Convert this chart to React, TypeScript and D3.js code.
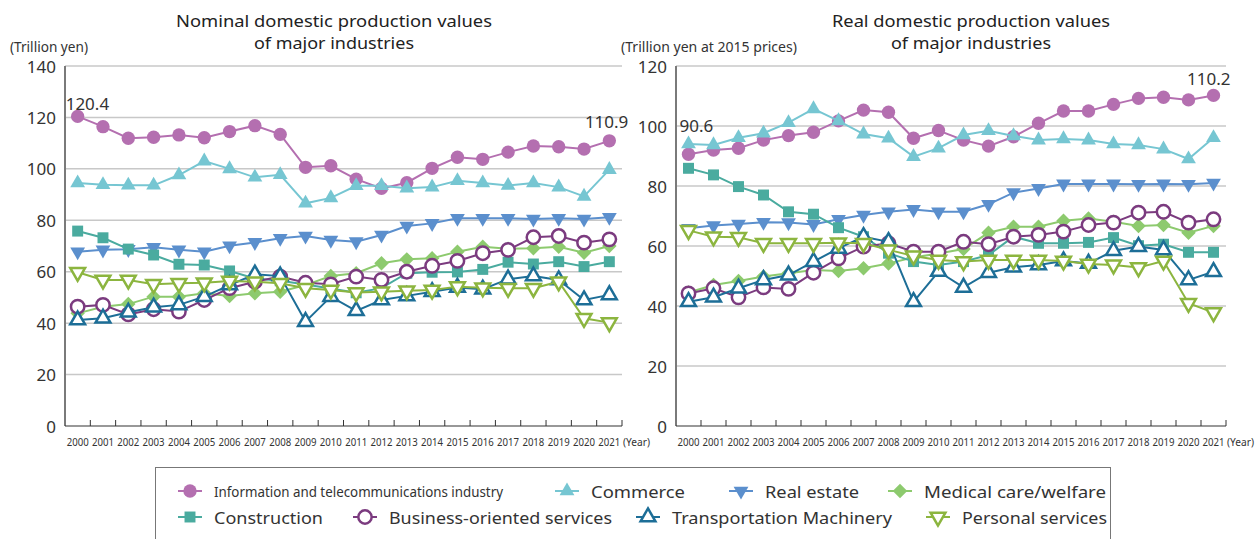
import * as d3 from "d3";

const years = d3.range(2000, 2022).map(String);

const SERIES = [
  "Information and telecommunications industry",
  "Commerce",
  "Real estate",
  "Medical care/welfare",
  "Construction",
  "Business-oriented services",
  "Transportation Machinery",
  "Personal services",
];

// nominal values (trillion yen)
const nomInfo = [120.4, 116.4, 111.9, 112.3, 113.2, 112.1, 114.5, 116.8, 113.4, 100.6, 101.2, 96.0, 92.4, 94.6, 100.2, 104.5, 103.7, 106.5, 108.9, 108.6, 107.7, 110.9];
const nomCommerce = [94.5, 93.8, 93.6, 93.6, 97.6, 103.0, 100.0, 96.7, 97.7, 86.6, 88.7, 93.4, 93.4, 92.5, 92.9, 95.4, 94.5, 93.5, 94.5, 92.9, 89.3, 99.7];
const nomRealEstate = [67.8, 68.5, 68.7, 69.5, 68.5, 67.8, 70.1, 71.4, 73.0, 73.9, 72.3, 71.7, 74.3, 77.8, 78.8, 80.8, 80.8, 80.8, 80.5, 80.8, 80.5, 81.2];
const nomMedical = [43.8, 46.4, 47.4, 50.3, 50.3, 51.6, 50.6, 51.6, 52.2, 54.8, 58.3, 59.4, 63.3, 64.8, 65.2, 67.8, 69.7, 68.9, 69.1, 69.7, 67.4, 70.0];
const nomConstruction = [75.8, 73.2, 68.8, 66.5, 62.9, 62.6, 60.3, 57.4, 56.5, 55.0, 53.5, 51.8, 53.6, 59.4, 59.8, 59.9, 60.9, 63.7, 63.0, 63.9, 62.0, 63.9];
const nomBusiness = [46.4, 47.1, 43.4, 45.4, 44.5, 49.0, 53.6, 56.1, 58.1, 55.7, 55.1, 58.1, 56.8, 60.0, 62.3, 64.2, 67.2, 68.5, 73.4, 73.9, 71.3, 72.6];
const nomTransport = [41.2, 41.9, 44.2, 46.2, 47.1, 50.3, 54.8, 59.0, 58.3, 40.6, 50.3, 44.8, 49.0, 50.6, 52.2, 53.9, 53.2, 57.1, 58.3, 56.8, 49.0, 51.0];
const nomPersonal = [59.8, 56.8, 56.8, 55.1, 55.5, 55.7, 56.4, 56.1, 55.5, 53.6, 52.9, 51.9, 52.2, 52.6, 52.9, 54.2, 53.8, 53.6, 53.6, 56.1, 41.9, 40.2];

// real values (trillion yen at 2015 prices)
const realInfo = [90.6, 92.0, 92.6, 95.3, 96.8, 97.9, 101.7, 105.3, 104.6, 95.9, 98.5, 95.3, 93.3, 96.4, 100.9, 105.0, 105.0, 107.2, 109.2, 109.6, 108.7, 110.2];
const realCommerce = [94.0, 93.7, 96.1, 97.6, 101.1, 105.7, 101.7, 97.3, 95.9, 89.8, 92.6, 97.0, 98.4, 96.7, 95.3, 95.7, 95.3, 94.0, 93.7, 92.3, 89.0, 96.1];
const realRealEstate = [65.9, 66.8, 67.3, 67.9, 67.8, 67.2, 68.9, 70.3, 71.4, 72.2, 71.4, 71.4, 73.9, 77.8, 79.2, 80.7, 80.7, 80.7, 80.6, 80.7, 80.6, 81.0];
const realMedical = [44.5, 47.0, 48.3, 49.8, 50.9, 52.0, 51.7, 52.6, 54.2, 56.2, 57.5, 59.0, 64.4, 66.4, 66.4, 68.4, 69.2, 68.1, 66.7, 67.0, 64.4, 66.7];
const realConstruction = [85.9, 83.7, 79.8, 77.0, 71.4, 70.6, 66.1, 63.1, 57.6, 54.8, 53.7, 54.8, 57.0, 63.1, 60.9, 60.9, 61.2, 62.8, 60.1, 60.6, 57.9, 57.9];
const realBusiness = [44.2, 45.9, 42.9, 46.2, 45.7, 51.1, 55.9, 59.8, 60.9, 58.1, 58.1, 61.4, 60.6, 63.1, 63.7, 64.8, 67.0, 67.8, 71.1, 71.4, 67.8, 68.9];
const realTransport = [41.4, 42.9, 45.9, 48.7, 50.3, 54.8, 59.2, 63.1, 61.4, 41.4, 51.5, 46.2, 51.1, 52.9, 53.7, 55.0, 54.2, 58.4, 59.8, 58.7, 48.7, 51.4];
const realPersonal = [65.2, 63.1, 62.9, 60.9, 60.9, 60.9, 61.1, 60.9, 58.7, 56.7, 55.3, 54.8, 55.3, 55.3, 55.3, 55.0, 54.0, 53.7, 52.8, 55.0, 40.9, 37.8];

const nominal = [nomInfo, nomCommerce, nomRealEstate, nomMedical, nomConstruction, nomBusiness, nomTransport, nomPersonal];
const real = [realInfo, realCommerce, realRealEstate, realMedical, realConstruction, realBusiness, realTransport, realPersonal];

const nomTicks = [0, 20, 40, 60, 80, 100, 120, 140];
const realTicks = [0, 20, 40, 60, 80, 100, 120];

type Style = { color: string; shape: string; open: boolean };
const STYLES: Style[] = [
  { color: "#b46fb0", shape: "circle", open: false },
  { color: "#76c6d2", shape: "up", open: false },
  { color: "#5b8fcd", shape: "down", open: false },
  { color: "#8dca6e", shape: "diamond", open: false },
  { color: "#4aab9f", shape: "square", open: false },
  { color: "#7b3b7f", shape: "circle", open: true },
  { color: "#1d6e97", shape: "up", open: true },
  { color: "#8cb53f", shape: "down", open: true },
];

const FONT = "'Noto Sans', 'Open Sans', sans-serif";
const TXT = "#333";

function markerPath(shape: string) {
  if (shape === "circle") return d3.symbol(d3.symbolCircle, 140)()!;
  if (shape === "square") return d3.symbol(d3.symbolSquare, 120)()!;
  if (shape === "diamond") return d3.symbol(d3.symbolSquare, 105)()!;
  return d3.symbol(d3.symbolTriangle, 95)()!;
}

function Marker({ x, y, s }: { x: number; y: number; s: Style }) {
  const rot = s.shape === "down" ? 180 : s.shape === "diamond" ? 45 : 0;
  return (
    <path
      d={markerPath(s.shape)}
      transform={`translate(${x},${y}) rotate(${rot})`}
      fill={s.open ? "#fff" : s.color}
      stroke={s.color}
      strokeWidth={s.open ? 2.5 : 0}
    />
  );
}

type PanelProps = {
  data: number[][];
  ticks: number[];
  x0: number;
  x1: number;
  title: string[];
  titleW: number[];
  titleX: number;
  unit: string;
  unitLen: number;
  notes: { i: number; text: string; dx: number; y: number; anchor: string }[];
};

function Panel({ data, ticks, x0, x1, title, titleW, titleX, unit, unitLen, notes }: PanelProps) {
  const yTop = 66, yBot = 426;
  const x = d3.scaleBand().domain(years).range([x0, x1]);
  const y = d3.scaleLinear().domain([0, d3.max(ticks)!]).range([yBot, yTop]);
  const cx = (i: number) => x(years[i])! + x.bandwidth() / 2;
  const line = d3.line<number>().x((_, i) => cx(i)).y((d) => y(d));
  return (
    <g fontFamily={FONT}>
      {title.map((t, i) => (
        <text key={i} x={titleX} y={21 + i * 22} textAnchor="middle" fontSize={16} fill="#222" dominantBaseline="central"
          textLength={titleW[i]} lengthAdjust="spacingAndGlyphs">{t}</text>
      ))}
      <text x={x0 - 55} y={46} fontSize={14} fill={TXT} dominantBaseline="central" textLength={unitLen} lengthAdjust="spacingAndGlyphs">{unit}</text>
      {ticks.map((t) => (
        <g key={t}>
          {t > 0 && <line x1={x0} x2={x1} y1={y(t)} y2={y(t)} stroke="#c8c8c8" strokeWidth={1.5} />}
          <text x={x0 - 9} y={y(t)} textAnchor="end" fontSize={17} fill={TXT} dominantBaseline="central">{t}</text>
        </g>
      ))}
      <line x1={x0} x2={x0} y1={yTop} y2={yBot} stroke="#7a7a7a" strokeWidth={2} />
      <line x1={x0} x2={x1} y1={yBot} y2={yBot} stroke="#333" strokeWidth={1.2} />
      {years.map((yr, i) => (
        <g key={yr}>
          <line x1={x(yr)! + x.bandwidth()} x2={x(yr)! + x.bandwidth()} y1={yBot} y2={yBot - 6} stroke="#333" strokeWidth={1} />
          <text x={cx(i)} y={441} textAnchor="middle" fontSize={11} fill={TXT} dominantBaseline="central" textLength={22} lengthAdjust="spacingAndGlyphs">{yr}</text>
        </g>
      ))}
      <text x={x1 + 1} y={441} fontSize={11} fill={TXT} dominantBaseline="central" textLength={27} lengthAdjust="spacingAndGlyphs">(Year)</text>
      {data.map((vals, k) => (
        <g key={k}>
          <path d={line(vals)!} fill="none" stroke={STYLES[k].color} strokeWidth={2} />
          {vals.map((v, i) => <Marker key={i} x={cx(i)} y={y(v)} s={STYLES[k]} />)}
        </g>
      ))}
      {notes.map((n) => (
        <text key={n.text} x={cx(n.i) + n.dx} y={n.y} textAnchor={n.anchor} fontSize={17} fill={TXT} dominantBaseline="central">{n.text}</text>
      ))}
    </g>
  );
}

const legendPos = [
  { x: 190, y: 491, w: 289, fs: 14 },
  { x: 567, y: 491, w: 94, fs: 16.5 },
  { x: 741, y: 491, w: 94, fs: 16.5 },
  { x: 900, y: 491, w: 182, fs: 16.5 },
  { x: 190, y: 517, w: 109, fs: 16.5 },
  { x: 365, y: 517, w: 223, fs: 16.5 },
  { x: 648, y: 517, w: 220, fs: 16.5 },
  { x: 938, y: 517, w: 145, fs: 16.5 },
];

export default function App() {
  return (
    <svg width={1257} height={539} style={{ position: "absolute", left: 0, top: 0, background: "#fff" }}>
      <Panel
        data={nominal}
        ticks={nomTicks}
        x0={65}
        x1={622}
        title={["Nominal domestic production values", "of major industries"]}
        titleW={[316, 160]}
        titleX={334}
        unit="(Trillion yen)"
        unitLen={78}
        notes={[
          { i: 0, text: nomInfo[0].toFixed(1), dx: -12, y: 103, anchor: "start" },
          { i: 21, text: nomInfo[21].toFixed(1), dx: 19, y: 121, anchor: "end" },
        ]}
      />
      <Panel
        data={real}
        ticks={realTicks}
        x0={676}
        x1={1226}
        title={["Real domestic production values", "of major industries"]}
        titleW={[278, 160]}
        titleX={971}
        unit="(Trillion yen at 2015 prices)"
        unitLen={176}
        notes={[
          { i: 0, text: realInfo[0].toFixed(1), dx: -9, y: 125, anchor: "start" },
          { i: 21, text: realInfo[21].toFixed(1), dx: 17, y: 78, anchor: "end" },
        ]}
      />
      <g fontFamily={FONT}>
        <rect x={155.5} y={467.5} width={955} height={80} fill="none" stroke="#777" strokeWidth={1} />
        {SERIES.map((name, k) => {
          const p = legendPos[k];
          return (
            <g key={name}>
              <line x1={p.x - 12} x2={p.x + 12} y1={p.y} y2={p.y} stroke={STYLES[k].color} strokeWidth={2} />
              <Marker x={p.x} y={p.y} s={STYLES[k]} />
              <text x={p.x + 24} y={p.y} fontSize={p.fs} fill={TXT} dominantBaseline="central"
                textLength={p.w} lengthAdjust="spacingAndGlyphs">
                {name}
              </text>
            </g>
          );
        })}
      </g>
    </svg>
  );
}
